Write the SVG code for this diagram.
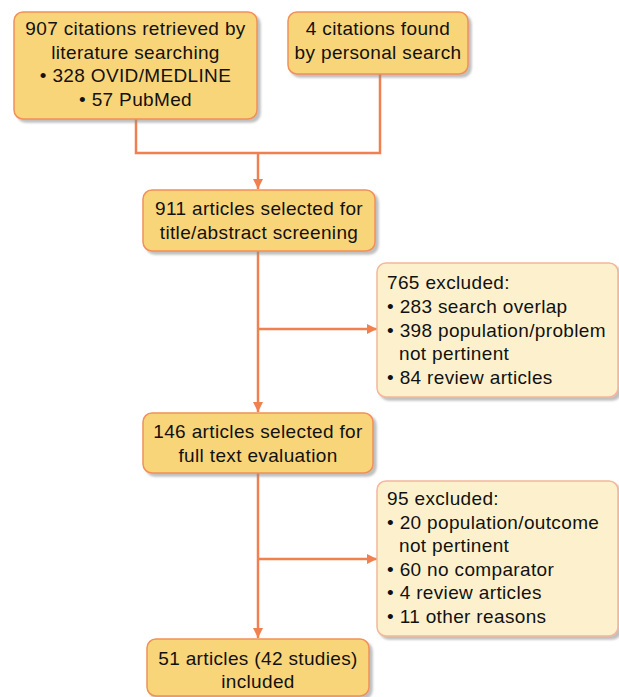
<svg xmlns="http://www.w3.org/2000/svg" width="619" height="697" viewBox="0 0 619 697">
<defs>
<filter id="sh" x="-10%" y="-10%" width="130%" height="130%">
<feDropShadow dx="3" dy="3" stdDeviation="1.2" flood-color="#8c8c8c" flood-opacity="0.55"/>
</filter>
<marker id="arr" viewBox="0 0 10 10" refX="10" refY="5" markerWidth="10" markerHeight="10" markerUnits="userSpaceOnUse" orient="auto">
<path d="M0,0 L10,5 L0,10 Z" fill="#F0804F"/>
</marker>
<style>
.main{fill:#F9D57A;stroke:#F0905A;stroke-width:1.5;filter:url(#sh)}
.excl{fill:#FDF1CD;stroke:#F4B79A;stroke-width:1.5;filter:url(#sh)}
text{font-family:"Liberation Sans",Arial,sans-serif;font-size:19px;letter-spacing:0.35px;fill:#111111}
.c{text-anchor:middle}
.ln{fill:none;stroke:#F0804F;stroke-width:2.5}
</style>
</defs>
<rect width="619" height="697" fill="#ffffff"/>
<g id="connectors">
<polyline class="ln" points="136,119 136,153 380,153 380,74"/>
<line class="ln" x1="258" y1="153" x2="258" y2="189" marker-end="url(#arr)"/>
<line class="ln" x1="258" y1="251" x2="258" y2="412" marker-end="url(#arr)"/>
<line class="ln" x1="258" y1="329" x2="377" y2="329" marker-end="url(#arr)"/>
<line class="ln" x1="258" y1="473" x2="258" y2="638" marker-end="url(#arr)"/>
<line class="ln" x1="258" y1="559" x2="377" y2="559" marker-end="url(#arr)"/>
</g>
<g id="n1">
<rect class="main" x="14" y="12" width="243" height="107" rx="9"/>
<text class="c" x="135.5" y="35">907 citations retrieved by</text>
<text class="c" x="135.5" y="58.5">literature searching</text>
<text class="c" x="135.5" y="82">• 328 OVID/MEDLINE</text>
<text class="c" x="135.5" y="105.5">• 57 PubMed</text>
</g>
<g id="n2">
<rect class="main" x="288" y="12" width="180" height="62" rx="9"/>
<text class="c" x="378" y="35">4 citations found</text>
<text class="c" x="378" y="58.5">by personal search</text>
</g>
<g id="n3">
<rect class="main" x="143" y="190" width="232" height="61" rx="9"/>
<text class="c" x="259" y="215">911 articles selected for</text>
<text class="c" x="259" y="238.5">title/abstract screening</text>
</g>
<g id="n4">
<rect class="excl" x="377" y="263" width="241" height="134" rx="9"/>
<text x="387" y="289">765 excluded:</text>
<text x="387" y="313">• 283 search overlap</text>
<text x="387" y="336.5">• 398 population/problem</text>
<text x="399" y="360">not pertinent</text>
<text x="387" y="383.5">• 84 review articles</text>
</g>
<g id="n5">
<rect class="main" x="143" y="413" width="230" height="60" rx="9"/>
<text class="c" x="258" y="437.5">146 articles selected for</text>
<text class="c" x="258" y="461.5">full text evaluation</text>
</g>
<g id="n6">
<rect class="excl" x="377" y="481" width="241" height="155" rx="9"/>
<text x="387" y="505">95 excluded:</text>
<text x="387" y="528.5">• 20 population/outcome</text>
<text x="399" y="552">not pertinent</text>
<text x="387" y="575.5">• 60 no comparator</text>
<text x="387" y="599">• 4 review articles</text>
<text x="387" y="622.5">• 11 other reasons</text>
</g>
<g id="n7">
<rect class="main" x="147" y="639" width="222" height="57" rx="9"/>
<text class="c" x="258" y="665">51 articles (42 studies)</text>
<text class="c" x="258" y="688">included</text>
</g>
</svg>
